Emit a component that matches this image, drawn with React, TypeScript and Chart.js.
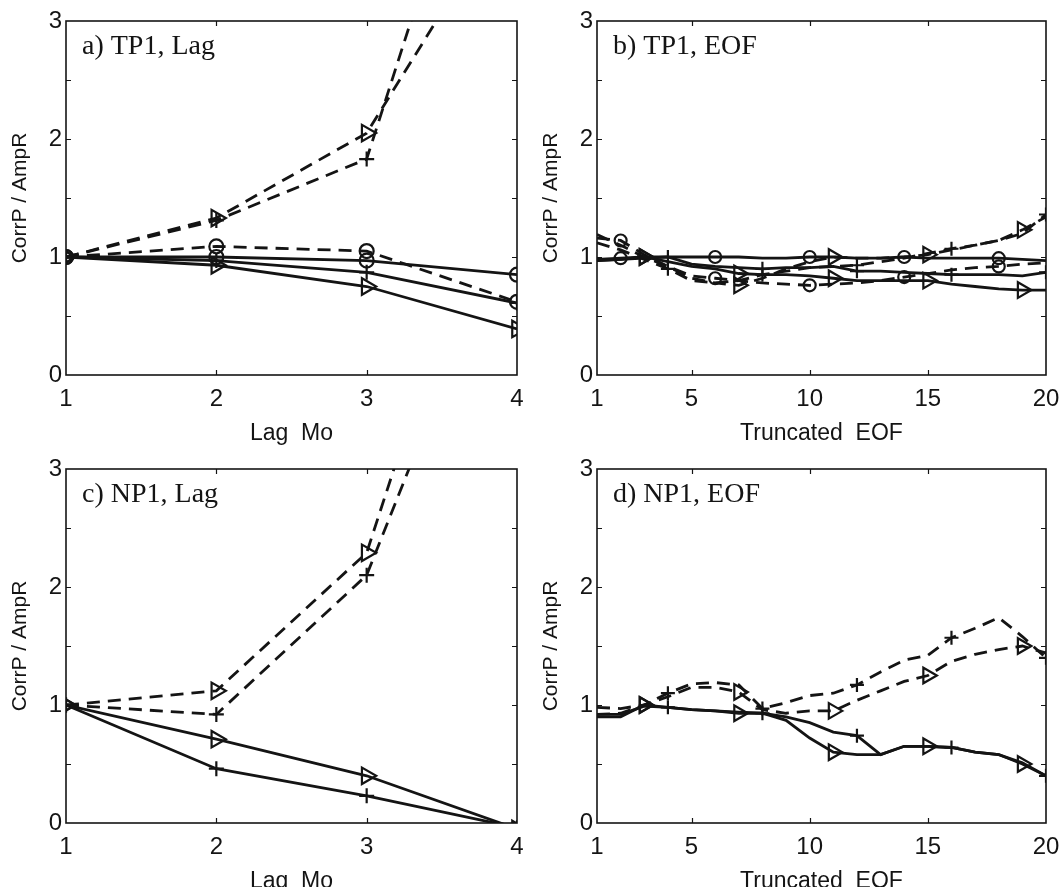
import React, { useEffect, useRef } from 'react';
import { Chart, registerables } from 'chart.js';

Chart.register(...registerables);

// ---------- data ----------
const lagMonths = [1, 2, 3, 4];
const eofCount = [1, 2, 3, 4, 5, 6, 7, 8, 9, 10, 11, 12, 13, 14, 15, 16, 17, 18, 19, 20];
const lagTickLabels = [1, 2, 3, 4];
const eofTickLabels = [1, 5, 10, 15, 20];
const yTickValues = [0, 0.5, 1, 1.5, 2, 2.5, 3];

// a) TP1, Lag
const aDashTri = [1.0, 1.33, 2.05, 4.1];
const aDashCross = [1.0, 1.31, 1.83, 5.8];
const aDashCirc = [1.0, 1.09, 1.05, 0.62];
const aSolidCirc = [1.0, 1.0, 0.97, 0.85];
const aSolidCross = [1.0, 0.97, 0.87, 0.61];
const aSolidTri = [1.0, 0.93, 0.75, 0.39];

// b) TP1, EOF
const bSolidCirc = [0.98, 0.99, 1.0, 1.0, 1.0, 1.0, 1.0, 0.99, 0.99, 1.0, 1.0, 0.99, 0.99, 1.0, 0.99, 0.99, 0.99, 0.99, 0.98, 0.97];
const bSolidCross = [0.97, 0.98, 0.99, 1.0, 0.94, 0.92, 0.91, 0.9, 0.91, 0.91, 0.92, 0.88, 0.88, 0.87, 0.86, 0.85, 0.85, 0.85, 0.84, 0.87];
const bSolidTri = [0.97, 0.98, 1.0, 0.96, 0.92, 0.9, 0.86, 0.85, 0.85, 0.84, 0.82, 0.8, 0.8, 0.8, 0.8, 0.77, 0.75, 0.73, 0.72, 0.72];
const bDashCirc = [1.16, 1.14, 1.02, 0.92, 0.84, 0.82, 0.8, 0.78, 0.77, 0.76, 0.77, 0.78, 0.8, 0.83, 0.86, 0.89, 0.91, 0.92, 0.94, 0.95];
const bDashTri = [1.19, 1.1, 1.0, 0.92, 0.82, 0.78, 0.76, 0.82, 0.9, 0.96, 1.0, 0.99, 0.99, 1.0, 1.02, 1.06, 1.1, 1.14, 1.23, 1.34];
const bDashCross = [1.12, 1.06, 0.98, 0.9, 0.8, 0.78, 0.8, 0.85, 0.88, 0.91, 0.92, 0.93, 0.96, 0.99, 1.03, 1.07, 1.1, 1.14, 1.2, 1.36];

// c) NP1, Lag
const cDashTri = [1.0, 1.12, 2.29, 6.2];
const cDashCross = [1.0, 0.92, 2.1, 5.3];
const cSolidTri = [1.0, 0.71, 0.4, -0.05];
const cSolidCross = [1.0, 0.46, 0.23, -0.04];

// d) NP1, EOF
const dSolidTri = [0.9, 0.9, 1.0, 0.98, 0.96, 0.95, 0.93, 0.93, 0.87, 0.72, 0.6, 0.58, 0.58, 0.65, 0.65, 0.64, 0.6, 0.58, 0.5, 0.4];
const dSolidCross = [0.92, 0.92, 0.99, 0.98, 0.96, 0.95, 0.94, 0.93, 0.9, 0.85, 0.77, 0.74, 0.58, 0.65, 0.65, 0.64, 0.6, 0.58, 0.51, 0.4];
const dDashTri = [0.98, 0.97, 1.0, 1.07, 1.15, 1.15, 1.11, 0.96, 0.93, 0.95, 0.95, 1.04, 1.12, 1.2, 1.25, 1.37, 1.43, 1.47, 1.5, 1.44];
const dDashCross = [0.92, 0.93, 1.0, 1.1, 1.18, 1.19, 1.17, 0.97, 1.02, 1.08, 1.1, 1.17, 1.28, 1.38, 1.42, 1.57, 1.65, 1.74, 1.58, 1.4];

// ---------- styling ----------
const INK = '#141414';
const SANS = '"Liberation Sans", Arial, Helvetica, sans-serif';
const SERIF = '"Liberation Serif", "Times New Roman", serif';

type Marker = 'circle' | 'cross' | 'tri';
type Series = { ys: number[]; marker: Marker; dashed: boolean };
type Panel = {
  key: string;
  label: string;
  xs: number[];
  xTicks: number[];
  xTitle: string;
  sparseMarkers: boolean;
  series: Series[];
  left: number;
  top: number;
  w: number;
  h: number;
  padTop: number;
  padRight: number;
};

const panels: Panel[] = [
  {
    key: 'a', label: 'a) TP1, Lag', xs: lagMonths, xTicks: lagTickLabels, xTitle: 'Lag  Mo', sparseMarkers: false,
    series: [
      { ys: aDashTri, marker: 'tri', dashed: true },
      { ys: aDashCross, marker: 'cross', dashed: true },
      { ys: aDashCirc, marker: 'circle', dashed: true },
      { ys: aSolidCirc, marker: 'circle', dashed: false },
      { ys: aSolidCross, marker: 'cross', dashed: false },
      { ys: aSolidTri, marker: 'tri', dashed: false },
    ],
    left: 0, top: 0, w: 531, h: 447, padTop: 21, padRight: 14,
  },
  {
    key: 'b', label: 'b) TP1, EOF', xs: eofCount, xTicks: eofTickLabels, xTitle: 'Truncated  EOF', sparseMarkers: true,
    series: [
      { ys: bSolidCirc, marker: 'circle', dashed: false },
      { ys: bSolidCross, marker: 'cross', dashed: false },
      { ys: bSolidTri, marker: 'tri', dashed: false },
      { ys: bDashCirc, marker: 'circle', dashed: true },
      { ys: bDashTri, marker: 'tri', dashed: true },
      { ys: bDashCross, marker: 'cross', dashed: true },
    ],
    left: 531, top: 0, w: 532, h: 447, padTop: 21, padRight: 17,
  },
  {
    key: 'c', label: 'c) NP1, Lag', xs: lagMonths, xTicks: lagTickLabels, xTitle: 'Lag  Mo', sparseMarkers: false,
    series: [
      { ys: cDashTri, marker: 'tri', dashed: true },
      { ys: cDashCross, marker: 'cross', dashed: true },
      { ys: cSolidTri, marker: 'tri', dashed: false },
      { ys: cSolidCross, marker: 'cross', dashed: false },
    ],
    left: 0, top: 445, w: 531, h: 450, padTop: 24, padRight: 14,
  },
  {
    key: 'd', label: 'd) NP1, EOF', xs: eofCount, xTicks: eofTickLabels, xTitle: 'Truncated  EOF', sparseMarkers: true,
    series: [
      { ys: dSolidTri, marker: 'tri', dashed: false },
      { ys: dSolidCross, marker: 'cross', dashed: false },
      { ys: dDashTri, marker: 'tri', dashed: true },
      { ys: dDashCross, marker: 'cross', dashed: true },
    ],
    left: 531, top: 445, w: 532, h: 450, padTop: 24, padRight: 17,
  },
];

function markerShown(p: Panel, m: Marker, x: number): boolean {
  if (!p.sparseMarkers) return true;
  if (m === 'circle') return x % 4 === 2;
  if (m === 'tri') return x % 4 === 3;
  return x % 4 === 0;
}

function markerSize(p: Panel, m: Marker): number {
  const big = !p.sparseMarkers;
  if (m === 'circle') return big ? 7 : 6;
  if (m === 'tri') return big ? 9.5 : 9;
  return big ? 7.5 : 7;
}

function makePlugin(p: Panel) {
  return {
    id: 'frame_' + p.key,
    afterDraw(chart: any) {
      const { ctx, chartArea } = chart;
      const { left, right, top, bottom } = chartArea;
      const xs = chart.scales.x;
      const ys = chart.scales.y;
      ctx.save();
      ctx.strokeStyle = INK;
      ctx.lineWidth = 1.6;
      ctx.strokeRect(left, top, right - left, bottom - top);
      ctx.lineWidth = 1.2;
      const tl = 5;
      ctx.beginPath();
      yTickValues.forEach((v) => {
        if (v <= 0 || v >= 3) return;
        const py = Math.round(ys.getPixelForValue(v)) + 0.5;
        ctx.moveTo(left, py); ctx.lineTo(left + tl, py);
        ctx.moveTo(right, py); ctx.lineTo(right - tl, py);
      });
      p.xTicks.forEach((v) => {
        if (v <= p.xs[0] || v >= p.xs[p.xs.length - 1]) return;
        const px = Math.round(xs.getPixelForValue(v)) + 0.5;
        ctx.moveTo(px, bottom); ctx.lineTo(px, bottom - tl);
        ctx.moveTo(px, top); ctx.lineTo(px, top + tl);
      });
      ctx.stroke();
      ctx.fillStyle = INK;
      ctx.font = '28px ' + SERIF;
      ctx.textAlign = 'left';
      ctx.textBaseline = 'alphabetic';
      ctx.fillText(p.label, left + 16, top + 33);
      ctx.restore();
    },
  };
}

function buildConfig(p: Panel): any {
  const datasets = p.series.map((s) => ({
    data: p.xs.map((x, i) => ({ x, y: s.ys[i] })),
    borderColor: INK,
    borderWidth: 2.8,
    borderDash: s.dashed ? [13, 8] : [],
    borderCapStyle: 'butt',
    borderJoinStyle: 'miter',
    tension: 0,
    fill: false,
    pointStyle: s.marker === 'tri' ? 'triangle' : s.marker,
    rotation: s.marker === 'tri' ? 90 : 0,
    pointRotation: s.marker === 'tri' ? 90 : 0,
    pointRadius: p.xs.map((x) => (markerShown(p, s.marker, x) ? markerSize(p, s.marker) : 0)),
    pointHoverRadius: 0,
    pointBorderColor: INK,
    pointBorderWidth: 2.2,
    pointBackgroundColor: 'rgba(0,0,0,0)',
  }));
  return {
    type: 'line',
    data: { datasets },
    options: {
      animation: false,
      responsive: false,
      maintainAspectRatio: false,
      events: [],
      layout: { padding: { top: p.padTop, right: p.padRight, bottom: 0, left: 0 } },
      plugins: { legend: { display: false }, tooltip: { enabled: false }, title: { display: false } },
      scales: {
        x: {
          type: 'linear',
          min: p.xs[0],
          max: p.xs[p.xs.length - 1],
          afterBuildTicks: (sc: any) => { sc.ticks = p.xTicks.map((v) => ({ value: v })); },
          afterFit: (sc: any) => { sc.height = 72; sc.paddingLeft = 0; sc.paddingRight = 0; },
          grid: { display: false, drawTicks: false },
          border: { display: false },
          ticks: {
            color: INK, font: { family: SANS, size: 24 }, padding: 10,
            maxRotation: 0, minRotation: 0, autoSkip: false,
            callback: (v: any) => String(v),
          },
          title: {
            display: true, text: p.xTitle, color: INK,
            font: { family: SANS, size: 23 }, padding: { top: 0, bottom: 0 },
          },
        },
        y: {
          type: 'linear',
          min: 0,
          max: 3,
          afterBuildTicks: (sc: any) => { sc.ticks = yTickValues.map((v) => ({ value: v })); },
          afterFit: (sc: any) => { sc.width = 66; sc.paddingTop = 0; sc.paddingBottom = 0; },
          grid: { display: false, drawTicks: false },
          border: { display: false },
          ticks: {
            color: INK, font: { family: SANS, size: 24 }, padding: 4, autoSkip: false,
            callback: (v: any) => (Number.isInteger(v) ? String(v) : ''),
          },
          title: {
            display: true, text: 'CorrP / AmpR', color: INK,
            font: { family: SANS, size: 21 }, padding: { top: 8, bottom: 0 },
          },
        },
      },
    },
    plugins: [makePlugin(p)],
  };
}

function PanelChart({ p }: { p: Panel }) {
  const ref = useRef<HTMLCanvasElement | null>(null);
  useEffect(() => {
    if (!ref.current) return;
    const chart = new Chart(ref.current, buildConfig(p));
    return () => chart.destroy();
  }, [p]);
  return (
    <div style={{ position: 'absolute', left: p.left, top: p.top, width: p.w, height: p.h }}>
      <canvas ref={ref} width={p.w} height={p.h} style={{ width: p.w, height: p.h, display: 'block' }} />
    </div>
  );
}

export default function App() {
  return (
    <div style={{ position: 'absolute', left: 0, top: 0, width: 1063, height: 887, overflow: 'hidden', background: '#fff' }}>
      {panels.map((p) => (
        <PanelChart key={p.key} p={p} />
      ))}
    </div>
  );
}
